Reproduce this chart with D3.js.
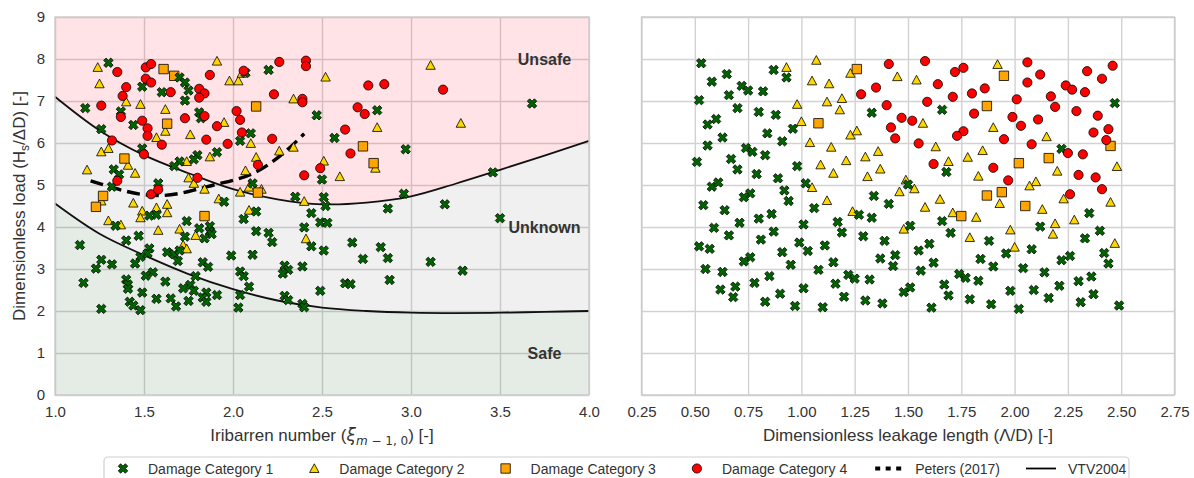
<!DOCTYPE html>
<html><head><meta charset="utf-8">
<script src="https://cdn.jsdelivr.net/npm/d3@7"></script>
<style>
body{margin:0;background:#fff;}
svg{display:block;font-family:"Liberation Sans",Arial,sans-serif;}
</style></head><body>
<svg id="chart" width="1194" height="478"></svg>
<script>
// ---------------- DATA ----------------
const iribarrenTicks = [1.0, 1.5, 2.0, 2.5, 3.0, 3.5, 4.0];
const leakageTicks = [0.25, 0.5, 0.75, 1.0, 1.25, 1.5, 1.75, 2.0, 2.25, 2.5, 2.75];
const loadTicks = [0, 1, 2, 3, 4, 5, 6, 7, 8, 9];
const categories = ["Damage Category 1", "Damage Category 2", "Damage Category 3", "Damage Category 4"];
const lineLabels = ["Peters (2017)", "VTV2004"];
const zoneLabels = ["Unsafe", "Unknown", "Safe"];
const zoneLoads = [8, 4, 1];

// VTV2004 boundaries (Iribarren number vs load)
const vtvXi = [1.0, 1.25, 1.5, 1.75, 2.0, 2.25, 2.5, 2.75, 3.0, 3.25, 3.5, 3.75, 4.0];
const vtvUpper = [7.10, 6.30, 5.71, 5.28, 4.90, 4.66, 4.54, 4.58, 4.73, 5.03, 5.36, 5.70, 6.05];
const vtvLower = [4.56, 3.84, 3.33, 2.88, 2.52, 2.25, 2.08, 2.00, 1.96, 1.95, 1.96, 1.98, 2.00];

// Peters (2017)
const petersXi = [1.2, 1.3, 1.4, 1.5, 1.6, 1.7, 1.8, 1.9, 2.0, 2.1, 2.2, 2.3, 2.4];
const petersLoad = [5.10, 4.97, 4.85, 4.77, 4.75, 4.80, 4.90, 5.01, 5.11, 5.25, 5.49, 5.82, 6.22];

// Left panel: [Iribarren number, dimensionless load]
const cat1Iribarren = [[1.30,7.91],[1.49,7.34],[1.60,7.21],[1.70,7.56],[1.73,7.44],[1.75,7.25],[1.73,7.01],[1.37,6.75],[1.81,6.73],[1.82,6.59],[2.07,7.67],[1.44,6.43],[1.26,6.33],[1.49,5.87],[2.10,6.23],[2.04,6.05],[1.91,5.78],[1.80,5.71],[1.78,5.61],[1.70,5.56],[1.67,5.45],[1.33,5.37],[1.36,5.25],[1.58,5.04],[2.11,5.04],[1.32,4.96],
[1.17,6.83],[1.14,3.57],[1.16,2.67],
[1.95,4.60],[2.13,4.37],[2.06,4.19],[1.74,4.14],[1.57,4.29],[1.53,4.27],[1.34,4.03],[1.81,3.97],[1.87,4.02],[1.87,3.89],[1.88,3.83],[1.84,3.73],[1.73,3.77],[2.13,3.90],[1.40,3.68],[1.47,3.79],[1.53,3.49],[1.52,3.37],[1.48,3.29],[1.63,3.40],[1.67,3.35],[1.69,3.19],[1.70,3.44],[1.45,3.13],[1.99,3.32],[2.11,3.34],[1.26,3.22],[1.32,3.11],[1.23,3.01],[1.83,3.16],[1.86,3.05],[1.79,2.83],[1.55,2.92],[1.51,2.84],[1.62,2.70],[1.40,2.75],[1.41,2.63],[1.41,2.53],[2.04,2.94],[2.06,2.83],[2.09,2.58],[1.76,2.62],[1.72,2.54],[1.78,2.48],[1.85,2.44],[1.91,2.38],[1.49,2.44],[1.57,2.29],[1.65,2.30],[1.68,2.11],[1.75,2.24],[1.83,2.32],[1.85,2.22],[2.04,2.38],[1.42,2.22],[1.44,2.13],[1.48,2.02],[1.26,2.05],[2.03,2.08],
[2.20,7.74],[2.47,6.66],[2.81,6.78],[3.68,6.94],[2.57,6.12],[2.97,5.85],[2.50,5.13],[3.46,5.30],[2.35,4.72],[2.51,4.71],[2.52,4.50],[2.96,4.79],[2.87,4.44],[3.19,4.54],[3.50,4.21],[2.44,4.33],[2.49,4.11],[2.53,4.10],[2.40,3.99],[2.20,3.86],[2.22,3.64],[2.44,3.54],[2.51,3.44],[2.67,3.63],[2.83,3.52],[2.73,3.24],[2.87,3.26],[3.11,3.17],[3.29,2.96],[2.39,3.06],[2.29,3.08],[2.31,2.98],[2.28,2.89],[2.88,2.74],[2.63,2.66],[2.66,2.64],[2.49,2.48],[2.29,2.36],[2.31,2.26],[2.39,2.17],[2.40,2.09]];
const cat2Iribarren = [[1.24,7.80],[1.25,7.41],[1.91,7.95],[1.98,7.48],[2.03,7.48],[2.05,7.66],[1.40,6.98],[1.48,6.92],[1.62,6.80],[1.95,6.49],[1.62,6.28],[1.57,6.13],[1.76,6.20],[2.10,5.99],[1.26,5.79],[1.30,5.87],[1.41,5.47],[1.45,5.28],[1.87,5.67],[1.74,5.56],[1.75,5.17],[1.78,5.04],[2.07,5.34],[2.13,5.66],[1.18,5.36],
[1.44,4.57],[1.49,4.38],[1.48,4.22],[1.57,4.46],[1.63,4.54],[1.63,4.34],[1.30,4.15],[1.37,4.05],[1.58,3.92],[1.70,3.95],[1.79,3.80],[1.72,3.57],[1.74,3.48],[1.92,4.67],[2.04,4.83],[2.09,4.95],[2.09,4.40],[1.84,4.90],[1.26,4.62],
[3.11,7.85],[2.52,7.57],[2.34,7.05],[2.81,6.37],[3.28,6.47],[2.34,5.90],[2.26,5.81],[2.51,5.57],[2.60,5.20],[2.80,5.40],[2.40,4.61],[2.16,4.90],[2.41,3.72]];
const cat3Iribarren = [[1.61,7.76],[1.67,7.60],[1.63,6.46],[1.39,5.63],[2.13,6.87],[1.23,4.48],[1.27,4.74],[1.84,4.26],[2.73,5.92],[2.79,5.52],[2.14,4.82]];
const cat4Iribarren = [[1.35,7.69],[1.51,7.80],[1.54,7.88],[1.51,7.53],[1.54,7.44],[1.40,7.33],[1.38,7.12],[1.26,6.89],[1.37,6.62],[1.49,6.53],[1.52,6.35],[1.52,6.17],[1.60,5.96],[1.32,6.06],[1.50,5.73],[1.35,5.10],[1.65,7.21],[1.81,7.29],[1.84,7.18],[1.81,7.08],[1.87,7.62],[1.73,6.59],[1.84,6.64],[1.91,6.40],[1.85,6.08],[1.97,5.98],[2.02,6.76],[2.04,6.55],[2.05,6.25],[2.06,7.72],[1.80,5.17],[1.54,4.78],[1.58,4.89],
[2.26,7.93],[2.41,7.96],[2.41,7.83],[2.23,7.16],[2.39,7.05],[2.39,6.97],[2.76,7.37],[2.85,7.40],[3.18,7.27],[2.70,6.85],[2.74,6.69],[2.63,6.32],[2.22,6.10],[2.66,5.75],[2.49,5.40],[2.40,5.23],[2.14,5.48]];

// Right panel: [dimensionless leakage length, dimensionless load]
const cat1Leakage = [[0.53,7.90],[0.65,7.64],[0.58,7.46],[0.72,7.36],[0.75,7.25],[0.66,7.14],[0.82,7.23],[0.87,7.74],[0.93,7.56],[0.52,7.02],[0.70,6.83],[0.80,6.74],[0.88,6.67],[0.60,6.57],[0.56,6.44],[0.84,6.23],[0.96,6.34],[0.63,6.13],[0.91,6.04],[0.56,5.94],[0.74,5.88],[0.77,5.79],[0.83,5.71],[0.51,5.55],[0.67,5.62],[0.70,5.37],[0.79,5.26],[0.98,5.45],[0.89,5.16],[1.02,5.04],[0.58,4.96],[0.61,5.06],[0.92,4.87],[0.94,4.62],[0.76,4.80],[0.73,4.71],[1.06,4.45],[0.54,4.52],[0.64,4.40],[0.71,4.10],[0.80,4.20],[0.86,4.31],[0.59,3.98],[0.66,3.80],[1.01,4.06],[1.17,4.12],[0.87,3.89],[0.81,3.70],[0.52,3.54],[0.57,3.48],[0.99,3.63],[1.03,3.43],[1.11,3.56],[0.91,3.40],[0.76,3.28],[0.73,3.18],[1.15,3.16],[0.95,3.10],[0.55,3.00],[0.63,2.93],[1.08,2.98],[0.85,2.83],[0.78,2.67],[1.16,2.65],[0.62,2.51],[0.69,2.58],[0.68,2.33],[0.90,2.41],[1.01,2.54],[0.83,2.22],[0.97,2.12],[1.10,2.09],
[1.33,6.72],[1.66,6.79],[1.68,5.31],[1.50,5.01],[1.34,4.74],[1.41,4.55],[1.27,4.29],[1.33,4.22],[1.51,4.03],[1.66,4.14],[1.19,3.87],[1.29,3.78],[1.39,3.67],[1.70,3.86],[1.60,3.60],[1.55,3.44],[1.44,3.33],[1.37,3.25],[1.43,3.07],[1.62,3.15],[1.56,2.96],[1.88,3.67],[1.84,3.24],[1.90,3.06],[1.22,2.86],[1.25,2.77],[1.32,2.75],[1.74,2.88],[1.77,2.79],[1.83,2.72],[1.67,2.63],[1.51,2.56],[1.48,2.45],[1.69,2.37],[1.20,2.34],[1.30,2.25],[1.38,2.18],[1.79,2.28],[1.89,2.16],[1.61,2.08],
[2.47,6.95],[2.22,5.86],[2.35,4.33],[2.40,3.91],[2.33,3.73],[2.12,4.01],[2.08,3.47],[1.96,3.37],[2.22,3.21],[2.26,3.31],[2.42,3.38],[2.44,3.13],[2.04,3.02],[2.14,2.92],[2.30,2.71],[2.36,2.82],[2.21,2.60],[2.09,2.50],[1.98,2.48],[2.16,2.31],[2.37,2.40],[2.31,2.21],[2.02,2.05],[2.49,2.13]];
const cat2Leakage = [[0.93,7.80],[1.07,7.97],[1.05,7.48],[1.13,7.41],[0.98,6.92],[1.12,6.98],[1.00,6.51],[1.04,6.01],[1.14,5.90],[1.09,5.48],[1.15,5.28],[1.05,4.94],[1.12,4.63],
[1.23,7.66],[1.45,7.58],[1.54,7.50],[1.19,7.06],[1.18,6.79],[1.57,6.47],[1.23,6.19],[1.26,6.29],[1.90,6.37],[1.63,5.91],[1.36,5.80],[1.30,5.67],[1.21,5.58],[1.69,5.56],[1.78,5.66],[1.85,5.82],[1.37,5.38],[1.31,5.20],[1.83,5.21],[1.49,5.12],[1.46,4.84],[1.53,4.91],[1.65,4.66],[1.58,4.47],[1.24,4.37],[1.71,4.34],[1.82,4.23],[1.48,3.95],[1.79,3.75],
[1.92,7.87],[2.15,6.15],[2.20,5.33],[2.10,5.08],[2.07,4.98],[1.93,4.56],[2.23,4.67],[2.13,4.42],[2.28,4.17],[2.19,4.08],[2.18,3.83],[1.98,3.93],[2.00,3.52],[2.48,5.44],[2.45,4.59],[2.47,3.61]];
const cat3Leakage = [[1.08,6.47],[1.26,7.76],[1.87,6.88],[1.87,4.75],[1.75,4.26],[1.95,7.60],[2.02,5.52],[2.16,5.64],[2.45,5.93],[1.94,4.83],[2.05,4.50]];
const cat4Leakage = [[1.41,7.88],[1.58,7.95],[1.72,7.69],[1.76,7.79],[1.35,7.32],[1.28,7.16],[1.64,7.40],[1.71,7.10],[1.80,7.18],[1.86,7.30],[1.40,6.90],[1.59,6.98],[1.47,6.60],[1.52,6.53],[1.42,6.37],[1.44,6.11],[1.55,5.99],[1.76,6.28],[1.73,6.17],[1.81,6.70],[1.62,5.50],[1.90,5.41],
[2.06,7.92],[2.12,7.63],[2.06,7.44],[2.34,7.71],[2.46,7.84],[2.41,7.53],[2.24,7.37],[2.27,7.27],[2.33,7.21],[2.17,7.11],[2.01,7.04],[2.19,6.86],[2.29,6.76],[2.39,6.65],[1.99,6.62],[2.03,6.41],[2.11,6.56],[2.37,6.25],[2.44,6.33],[2.43,6.07],[1.95,6.09],[2.08,5.97],[2.25,5.76],[2.32,5.73],[1.97,5.11],[2.30,5.24],[2.38,5.18],[2.41,4.90],[2.26,4.78]];

// ---------------- DRAW ----------------
const svg = d3.select("#chart");
const plotTop = 17, plotBottom = 395;
const y = d3.scaleLinear().domain([0, 9]).range([plotBottom, plotTop]);
const xL = d3.scaleLinear().domain([1, 4]).range([55, 589]);
const xR = d3.scaleLinear().domain([0.25, 2.75]).range([641.5, 1174.5]);

const GRID = "#d2d2d2", SPINE = "#cccccc", TXT = "#333333";

svg.append("rect").attr("width", 1194).attr("height", 478).attr("fill", "#fff");

function grid(g, x, xticks) {
  g.append("g").attr("transform", `translate(0,${plotBottom})`)
    .call(d3.axisBottom(x).tickValues(xticks).tickSize(-(plotBottom - plotTop)).tickFormat(""))
    .call(a => { a.select(".domain").remove(); a.selectAll("line").attr("stroke", GRID).attr("stroke-width", 1.4); });
  g.append("g").attr("transform", `translate(${x.range()[0]},0)`)
    .call(d3.axisLeft(y).tickValues(loadTicks).tickSize(-(x.range()[1] - x.range()[0])).tickFormat(""))
    .call(a => { a.select(".domain").remove(); a.selectAll("line").attr("stroke", GRID).attr("stroke-width", 1.4); });
}

const gL = svg.append("g");
const gR = svg.append("g");
grid(gL, xL, iribarrenTicks);
grid(gR, xR, leakageTicks);

// zones
const vtv = vtvXi.map((xi, i) => ({ xi, lo: vtvLower[i], up: vtvUpper[i] }));
const cv = d3.curveCatmullRom.alpha(0.5);
gL.append("path").datum(vtv)
  .attr("d", d3.area().x(d => xL(d.xi)).y0(y(9)).y1(d => y(d.up)).curve(cv))
  .attr("fill", "rgb(255,40,60)").attr("fill-opacity", 0.13);
gL.append("path").datum(vtv)
  .attr("d", d3.area().x(d => xL(d.xi)).y0(d => y(d.lo)).y1(d => y(d.up)).curve(cv))
  .attr("fill", "rgb(128,128,128)").attr("fill-opacity", 0.12);
gL.append("path").datum(vtv)
  .attr("d", d3.area().x(d => xL(d.xi)).y0(y(0)).y1(d => y(d.lo)).curve(cv))
  .attr("fill", "rgb(40,100,40)").attr("fill-opacity", 0.12);

// VTV lines
["up", "lo"].forEach(k => {
  gL.append("path").datum(vtv)
    .attr("d", d3.line().x(d => xL(d.xi)).y(d => y(d[k])).curve(cv))
    .attr("fill", "none").attr("stroke", "#111").attr("stroke-width", 1.8);
});
// Peters
gL.append("path").datum(petersXi.map((xi, i) => [xi, petersLoad[i]]))
  .attr("d", d3.line().x(d => xL(d[0])).y(d => y(d[1])).curve(cv))
  .attr("fill", "none").attr("stroke", "#000").attr("stroke-width", 3.4)
  .attr("stroke-dasharray", "13,6");

// marker shapes
const s = 10, a = s / 6, r = s / 2;
const plus = [[-a,-r],[a,-r],[a,-a],[r,-a],[r,a],[a,a],[a,r],[-a,r],[-a,a],[-r,a],[-r,-a],[-a,-a]];
const c45 = Math.SQRT1_2;
const xPath = "M" + plus.map(([px, py]) => [(px - py) * c45, (px + py) * c45].map(v => v.toFixed(2)).join(",")).join("L") + "Z";
const h = 4.7;
const triPath = `M0,${-h}L${h},${h * 0.85}L${-h},${h * 0.85}Z`;
const q = 4.7;
const sqPath = `M${-q},${-q}L${q},${-q}L${q},${q}L${-q},${q}Z`;
const circPath = d3.symbol(d3.symbolCircle, Math.PI * 4.6 * 4.6)();

const styles = [
  { path: xPath, fill: "#006400" },
  { path: triPath, fill: "#FFD700" },
  { path: sqPath, fill: "#FFA500" },
  { path: circPath, fill: "#FF0000" }
];

function scatter(g, x, data, st) {
  g.append("g").selectAll("path").data(data).join("path")
    .attr("transform", d => `translate(${x(d[0])},${y(d[1])})`)
    .attr("d", st.path).attr("fill", st.fill)
    .attr("stroke", "#000").attr("stroke-width", 0.8).attr("stroke-linejoin", "miter");
}
const leftSets = [cat1Iribarren, cat2Iribarren, cat3Iribarren, cat4Iribarren];
const rightSets = [cat1Leakage, cat2Leakage, cat3Leakage, cat4Leakage];
[1, 2, 0, 3].forEach(i => {
  scatter(gL, xL, leftSets[i], styles[i]);
  scatter(gR, xR, rightSets[i], styles[i]);
});

// spines
[xL, xR].forEach(x => {
  svg.append("rect").attr("x", x.range()[0]).attr("y", plotTop)
    .attr("width", x.range()[1] - x.range()[0]).attr("height", plotBottom - plotTop)
    .attr("fill", "none").attr("stroke", SPINE).attr("stroke-width", 1.4);
});

// zone labels
gL.selectAll("text.zone").data(zoneLabels).join("text")
  .attr("class", "zone")
  .attr("x", xL(3.75)).attr("y", (d, i) => y(zoneLoads[i])).attr("dy", "0.36em")
  .attr("text-anchor", "middle").attr("font-weight", "bold").attr("font-size", 16)
  .attr("fill", TXT).text(d => d);

// axes tick labels
function styleAxis(sel) {
  sel.select(".domain").remove();
  sel.selectAll("text").attr("fill", TXT).attr("font-size", 15).attr("font-family", '"Liberation Sans",Arial,sans-serif');
}
svg.append("g").attr("transform", `translate(0,${plotBottom})`)
  .call(d3.axisBottom(xL).tickValues(iribarrenTicks).tickSize(0).tickPadding(11).tickFormat(d3.format(".1f"))).call(styleAxis);
svg.append("g").attr("transform", `translate(0,${plotBottom})`)
  .call(d3.axisBottom(xR).tickValues(leakageTicks).tickSize(0).tickPadding(11).tickFormat(d3.format(".2f"))).call(styleAxis);
svg.append("g").attr("transform", `translate(${xL.range()[0]},0)`)
  .call(d3.axisLeft(y).tickValues(loadTicks).tickSize(0).tickPadding(10).tickFormat(d3.format("d"))).call(styleAxis);

// axis titles
const xt1 = svg.append("text").attr("x", (xL.range()[0] + xL.range()[1]) / 2).attr("y", 441)
  .attr("text-anchor", "middle").attr("font-size", 17).attr("fill", TXT);
xt1.append("tspan").text("Iribarren number (");
xt1.append("tspan").attr("font-family", '"DejaVu Sans",sans-serif').attr("font-style", "italic").text("ξ");
xt1.append("tspan").attr("font-family", '"DejaVu Sans",sans-serif').attr("font-size", 12).attr("dy", 4)
  .html('<tspan font-style="italic">m</tspan> − 1, 0');
xt1.append("tspan").attr("dy", -4).text(") [-]");

svg.append("text").attr("x", (xR.range()[0] + xR.range()[1]) / 2).attr("y", 441)
  .attr("text-anchor", "middle").attr("font-size", 17).attr("fill", TXT)
  .text("Dimensionless leakage length (Λ/D) [-]");

const yt = svg.append("text").attr("transform", `translate(25,${(plotTop + plotBottom) / 2}) rotate(-90)`)
  .attr("text-anchor", "middle").attr("font-size", 17).attr("fill", TXT);
yt.append("tspan").text("Dimensionless load (H");
yt.append("tspan").attr("font-size", 12).attr("dy", 4).text("s");
yt.append("tspan").attr("dy", -4).text("/ΔD) [-]");

// legend
const lg = svg.append("g");
lg.append("rect").attr("x", 104).attr("y", 457).attr("width", 1025).attr("height", 30)
  .attr("rx", 4).attr("fill", "#fff").attr("stroke", "#d0d0d0").attr("stroke-width", 1.2);
const ly = 468.5;
let cx = 123;
const items = categories.map((c, i) => ({ label: c, kind: i })).concat(lineLabels.map((l, i) => ({ label: l, kind: 4 + i })));
items.forEach(it => {
  const g = lg.append("g");
  if (it.kind < 4) {
    g.append("path").attr("transform", `translate(${cx},${ly})`).attr("d", styles[it.kind].path)
      .attr("fill", styles[it.kind].fill).attr("stroke", "#000").attr("stroke-width", 0.8);
  } else if (it.kind === 4) {
    g.append("line").attr("x1", cx - 13).attr("x2", cx + 13).attr("y1", ly).attr("y2", ly)
      .attr("stroke", "#000").attr("stroke-width", 4).attr("stroke-dasharray", "5,5.5");
  } else {
    g.append("line").attr("x1", cx - 15).attr("x2", cx + 15).attr("y1", ly).attr("y2", ly)
      .attr("stroke", "#000").attr("stroke-width", 1.8);
  }
  const off = it.kind < 4 ? 25 : 27;
  const t = g.append("text").attr("x", cx + off).attr("y", ly).attr("dy", "0.36em")
    .attr("font-size", 14).attr("fill", TXT).text(it.label);
  const w = t.node().getComputedTextLength();
  cx = cx + off + w + 41;
});
</script>
</body></html>
